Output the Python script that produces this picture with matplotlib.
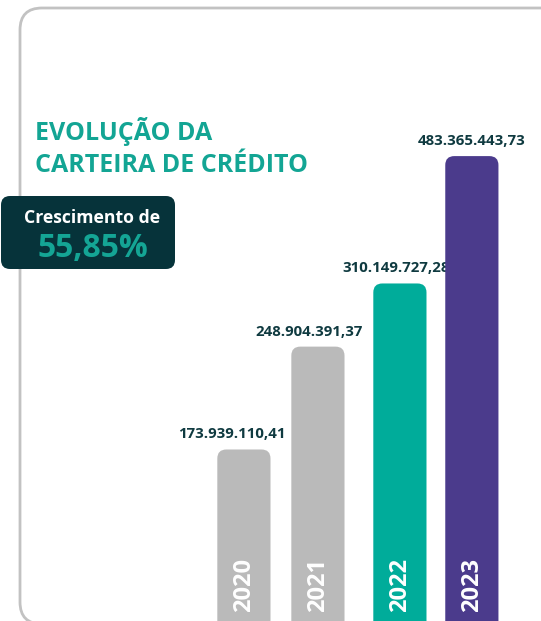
import matplotlib.pyplot as plt
from matplotlib.patches import FancyBboxPatch

# data (values in millions of R$)
years = ['2020', '2021', '2022', '2023']
values = [173.93911041, 248.90439137, 310.14972728, 483.36544373]
labels = ['173.939.110,41', '248.904.391,37', '310.149.727,28', '483.365.443,73']
colors = ['#bababa', '#bababa', '#00ac9a', '#4b3b8c']
growth = '55,85%'

W, H = 541, 621
fig = plt.figure(figsize=(W / 100, H / 100), dpi=100)
ax = fig.add_axes([0, 0, 1, 1])
ax.set_yscale('log')
ax.set_xlim(-3.21, 3.91)
ax.set_ylim(95.7, 832.6)
ax.axis('off')

font = ['Open Sans', 'DejaVu Sans']

# card outline (pixel coords)
card = FancyBboxPatch((20, -3), 600, H - 8 + 3,
                      boxstyle='round,pad=0,rounding_size=22',
                      transform=None, fill=False, ec='#c2c2c2', lw=2.0)
fig.patches.append(card)

xpos = [0, 0.974, 2.053, 3.0]      # slightly uneven spacing as in the original
lab_dx = [-12, -9, -4, 0]          # label shift in pixels
bars = ax.bar(xpos, [v - 80 for v in values], bottom=80, width=0.70,
              color=colors, zorder=3)

# swap the plain bars for ones with rounded tops
fig.canvas.draw()
r = fig.canvas.get_renderer()
for b, c in zip(bars, colors):
    bb = b.get_window_extent(r)
    b.set_visible(False)
    p = FancyBboxPatch((bb.x0, bb.y0), bb.width, bb.height,
                       boxstyle='round,pad=0,rounding_size=9',
                       transform=None, fc=c, ec='none', zorder=3)
    fig.patches.append(p)

for i, (v, lab, yr) in enumerate(zip(values, labels, years)):
    ax.annotate(lab, (xpos[i], v), xytext=(lab_dx[i], 11),
                textcoords='offset pixels', ha='center', va='baseline',
                fontsize=10.8, fontweight='bold', color='#0f3a40',
                family=font, zorder=1)
    xd = ax.transData.transform((xpos[i], 100))[0]
    fig.text(xd / W, 9 / H, yr, ha='center', va='bottom', rotation=90,
             fontsize=17, fontweight='bold', color='white', family=font,
             zorder=5)

# title
fig.text(35 / W, 1 - 140 / H, 'EVOLUÇÃO DA', ha='left', va='baseline',
         fontsize=18, fontweight='bold', color='#13a594', family=font)
fig.text(35 / W, 1 - 172 / H, 'CARTEIRA DE CRÉDITO', ha='left',
         va='baseline', fontsize=18, fontweight='bold', color='#13a594',
         family=font)

# growth badge
badge = FancyBboxPatch((1, H - 269), 174, 73,
                       boxstyle='round,pad=0,rounding_size=9',
                       transform=None, fc='#06333a', ec='none', zorder=4)
fig.patches.append(badge)
fig.text(92 / W, 1 - 223 / H, 'Crescimento de', ha='center', va='baseline',
         fontsize=12.7, fontweight='bold', color='white', family=font,
         zorder=5)
fig.text(93 / W, 1 - 257 / H, growth, ha='center', va='baseline',
         fontsize=23, fontweight='bold', color='#14a595', family=font,
         zorder=5)

fig.savefig('out.png', dpi=100, facecolor='white')
